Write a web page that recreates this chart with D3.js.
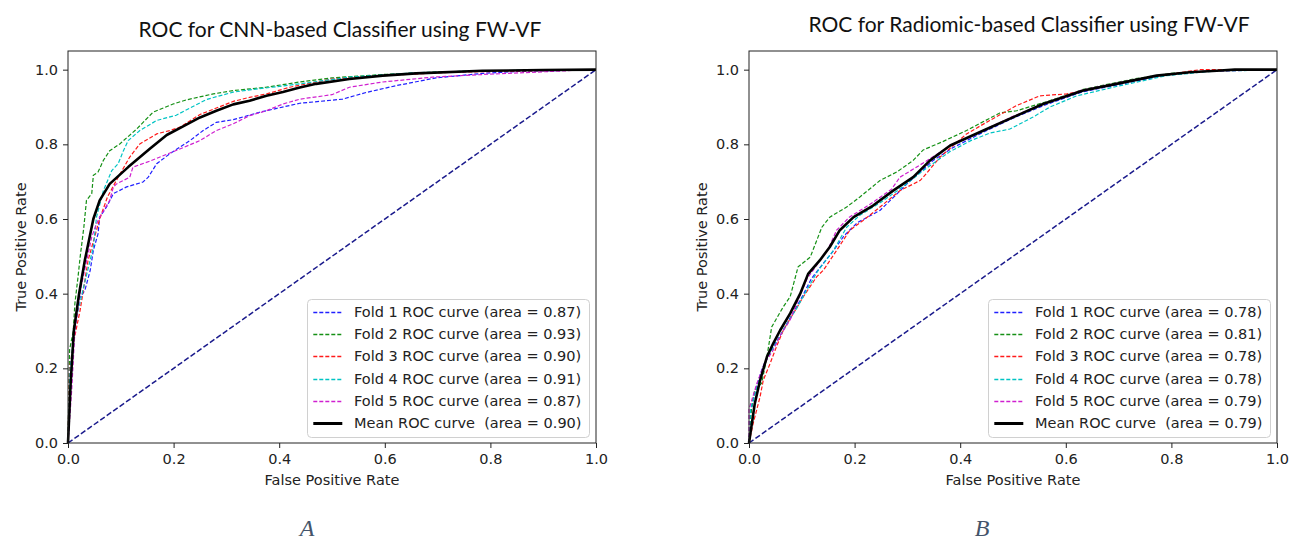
<!DOCTYPE html>
<html>
<head>
<meta charset="utf-8">
<title>ROC curves</title>
<script src="https://cdnjs.cloudflare.com/ajax/libs/d3/7.8.5/d3.min.js"></script>
<style>
  body { margin: 0; background: #fff; }
  svg { display: block; font-family: "DejaVu Sans", sans-serif; }
</style>
</head>
<body>
<svg id="chart" width="1292" height="544"></svg>
<script>
// ---- data: [false positive rate, true positive rate] ----
var tickValues = [0, 0.2, 0.4, 0.6, 0.8, 1.0];

var cnnFold1 = [[0,0],[0.006,0.16],[0.013,0.32],[0.019,0.382],[0.032,0.409],[0.042,0.462],[0.048,0.516],[0.057,0.561],[0.06,0.605],[0.073,0.632],[0.086,0.668],[0.111,0.686],[0.142,0.699],[0.152,0.712],[0.168,0.748],[0.193,0.775],[0.231,0.81],[0.256,0.837],[0.281,0.859],[0.313,0.866],[0.363,0.886],[0.439,0.91],[0.52,0.921],[0.565,0.939],[0.621,0.957],[0.697,0.978],[0.785,0.99],[0.848,0.995],[1,1]];
var cnnFold2 = [[0,0],[0.003,0.25],[0.01,0.3],[0.013,0.373],[0.019,0.445],[0.023,0.498],[0.03,0.578],[0.035,0.65],[0.045,0.668],[0.048,0.717],[0.057,0.726],[0.067,0.757],[0.079,0.783],[0.098,0.801],[0.13,0.841],[0.161,0.886],[0.199,0.908],[0.224,0.919],[0.275,0.935],[0.313,0.944],[0.376,0.953],[0.439,0.967],[0.5,0.978],[0.596,0.987],[0.691,0.993],[0.785,0.997],[1,1]];
var cnnFold3 = [[0,0],[0.003,0.2],[0.012,0.28],[0.023,0.356],[0.029,0.409],[0.038,0.489],[0.048,0.54],[0.06,0.6],[0.075,0.66],[0.095,0.712],[0.117,0.766],[0.136,0.801],[0.168,0.828],[0.193,0.837],[0.212,0.846],[0.25,0.88],[0.313,0.915],[0.344,0.926],[0.376,0.935],[0.42,0.953],[0.5,0.975],[0.596,0.984],[0.722,0.993],[1,1]];
var cnnFold4 = [[0,0],[0.004,0.2],[0.015,0.33],[0.03,0.42],[0.048,0.525],[0.054,0.605],[0.067,0.676],[0.083,0.73],[0.095,0.748],[0.105,0.783],[0.114,0.81],[0.136,0.837],[0.168,0.864],[0.205,0.878],[0.262,0.92],[0.313,0.94],[0.363,0.949],[0.439,0.962],[0.533,0.98],[0.659,0.992],[0.785,0.997],[1,1]];
var cnnFold5 = [[0,0],[0.007,0.142],[0.013,0.3],[0.025,0.42],[0.045,0.552],[0.054,0.587],[0.06,0.605],[0.079,0.65],[0.086,0.686],[0.092,0.694],[0.117,0.712],[0.123,0.739],[0.155,0.755],[0.199,0.78],[0.25,0.81],[0.281,0.837],[0.313,0.855],[0.344,0.877],[0.376,0.89],[0.407,0.908],[0.439,0.921],[0.5,0.933],[0.533,0.953],[0.596,0.967],[0.691,0.98],[0.785,0.987],[0.88,0.993],[0.975,0.999],[1,1]];
var cnnMean  = [[0,0],[0.005,0.16],[0.011,0.3],[0.021,0.4],[0.032,0.49],[0.048,0.6],[0.06,0.65],[0.079,0.694],[0.114,0.739],[0.155,0.788],[0.187,0.825],[0.218,0.848],[0.25,0.872],[0.281,0.89],[0.313,0.907],[0.344,0.917],[0.376,0.93],[0.407,0.94],[0.439,0.952],[0.47,0.962],[0.533,0.975],[0.596,0.984],[0.659,0.99],[0.785,0.997],[0.9,0.999],[1,1]];
var cnnAreas = [0.87, 0.93, 0.90, 0.91, 0.87, 0.90];

var radFold1 = [[0,0],[0.003,0.08],[0.012,0.14],[0.025,0.2],[0.04,0.245],[0.06,0.29],[0.08,0.34],[0.1,0.39],[0.118,0.44],[0.14,0.48],[0.16,0.515],[0.18,0.555],[0.205,0.59],[0.248,0.623],[0.275,0.66],[0.299,0.694],[0.349,0.757],[0.385,0.79],[0.44,0.83],[0.5,0.87],[0.56,0.905],[0.63,0.94],[0.7,0.96],[0.775,0.982],[0.84,0.993],[0.9,0.998],[1,1]];
var radFold2 = [[0,0],[0.002,0.05],[0.005,0.097],[0.011,0.142],[0.024,0.16],[0.034,0.231],[0.043,0.311],[0.065,0.365],[0.078,0.392],[0.093,0.472],[0.116,0.498],[0.138,0.578],[0.153,0.605],[0.185,0.632],[0.21,0.659],[0.248,0.703],[0.28,0.726],[0.311,0.757],[0.33,0.785],[0.368,0.808],[0.412,0.837],[0.475,0.884],[0.507,0.89],[0.57,0.917],[0.633,0.947],[0.728,0.975],[0.8,0.99],[0.917,1],[1,1]];
var radFold3 = [[0,0],[0.008,0.053],[0.021,0.124],[0.027,0.168],[0.04,0.213],[0.052,0.258],[0.065,0.302],[0.084,0.347],[0.103,0.392],[0.128,0.445],[0.141,0.463],[0.166,0.516],[0.191,0.57],[0.216,0.596],[0.248,0.632],[0.286,0.676],[0.324,0.703],[0.33,0.712],[0.362,0.766],[0.412,0.828],[0.456,0.864],[0.507,0.904],[0.551,0.93],[0.602,0.935],[0.665,0.953],[0.759,0.98],[0.854,1],[1,1]];
var radFold4 = [[0,0],[0.003,0.09],[0.015,0.15],[0.03,0.215],[0.05,0.265],[0.07,0.315],[0.09,0.36],[0.109,0.409],[0.13,0.46],[0.16,0.516],[0.185,0.578],[0.21,0.61],[0.25,0.645],[0.29,0.685],[0.33,0.73],[0.38,0.78],[0.42,0.81],[0.456,0.83],[0.494,0.841],[0.538,0.873],[0.57,0.9],[0.621,0.93],[0.696,0.955],[0.791,0.984],[0.87,0.995],[1,1]];
var radFold5 = [[0,0],[0,0.09],[0.015,0.16],[0.03,0.215],[0.046,0.249],[0.06,0.29],[0.078,0.33],[0.095,0.39],[0.11,0.44],[0.13,0.48],[0.15,0.52],[0.166,0.57],[0.19,0.605],[0.23,0.64],[0.27,0.68],[0.286,0.712],[0.33,0.75],[0.38,0.795],[0.44,0.835],[0.5,0.875],[0.56,0.91],[0.63,0.945],[0.7,0.965],[0.775,0.985],[0.85,0.995],[1,1]];
var radMean  = [[0,0],[0.011,0.106],[0.021,0.168],[0.034,0.231],[0.046,0.267],[0.059,0.302],[0.078,0.347],[0.097,0.4],[0.112,0.453],[0.134,0.489],[0.153,0.525],[0.172,0.57],[0.198,0.605],[0.235,0.636],[0.273,0.676],[0.311,0.712],[0.343,0.757],[0.381,0.797],[0.444,0.837],[0.507,0.877],[0.557,0.908],[0.633,0.944],[0.696,0.962],[0.772,0.984],[0.835,0.993],[0.886,0.997],[0.92,1],[1,1]];
var radAreas = [0.78, 0.81, 0.78, 0.78, 0.79, 0.79];

var foldColors = ["#2020ff", "#159015", "#ff1a1a", "#00c4c4", "#d020d0"];

var svg = d3.select("#chart");

function drawPanel(p) {
  var x = d3.scaleLinear().domain([0, 1]).range([p.left, p.right]);
  var y = d3.scaleLinear().domain([0, 1.05]).range([p.bottom, p.top]);
  var line = d3.line().x(function(d){ return x(d[0]); }).y(function(d){ return y(d[1]); });
  var g = svg.append("g");

  // folds
  p.folds.forEach(function(f, i){
    g.append("path").attr("d", line(f)).attr("fill", "none")
      .attr("stroke", foldColors[i]).attr("stroke-width", 1.2).attr("stroke-dasharray", "4,2");
  });
  // chance diagonal
  g.append("path").attr("d", line([[0,0],[1,1]])).attr("fill", "none")
    .attr("stroke", "#1a1a8c").attr("stroke-width", 1.5).attr("stroke-dasharray", "5.5,2.4");
  // mean curve
  g.append("path").attr("d", line(p.mean)).attr("fill", "none")
    .attr("stroke", "#000").attr("stroke-width", 2.6).attr("stroke-linejoin", "round");

  // axes
  var ax = g.append("g").attr("transform", "translate(0," + p.bottom + ")")
    .call(d3.axisBottom(x).tickValues(tickValues).tickFormat(d3.format(".1f")).tickSize(5).tickPadding(6));
  var ay = g.append("g").attr("transform", "translate(" + p.left + ",0)")
    .call(d3.axisLeft(y).tickValues(tickValues).tickFormat(d3.format(".1f")).tickSize(5).tickPadding(5));
  [ax, ay].forEach(function(a){
    a.select(".domain").remove();
    a.selectAll("text").attr("font-family", "DejaVu Sans").attr("font-size", 14.5).attr("fill", "#222");
    a.selectAll("line").attr("stroke", "#222");
  });
  g.append("rect").attr("x", p.left).attr("y", p.top)
    .attr("width", p.right - p.left).attr("height", p.bottom - p.top)
    .attr("fill", "none").attr("stroke", "#222").attr("stroke-width", 1);

  // labels
  g.append("text").attr("x", p.titleX).attr("y", p.titleY).attr("text-anchor", "middle")
    .attr("font-family", "Lato, 'Open Sans', sans-serif").attr("font-size", 21).attr("fill", "#111").text(p.title);
  g.append("text").attr("x", (p.left + p.right) / 2).attr("y", 485).attr("text-anchor", "middle")
    .attr("font-size", 14.5).attr("fill", "#222").text("False Positive Rate");
  g.append("text").attr("transform", "translate(" + (p.left - 42) + "," + ((p.top + p.bottom) / 2) + ") rotate(-90)")
    .attr("text-anchor", "middle").attr("font-size", 14.5).attr("fill", "#222").text("True Positive Rate");
  g.append("text").attr("x", p.captionX).attr("y", 536).attr("text-anchor", "middle")
    .attr("font-family", "'Liberation Serif', serif").attr("font-style", "italic")
    .attr("font-size", 24).attr("fill", "#44546a").text(p.caption);

  // legend
  var labels = p.areas.map(function(a, i){
    return (i < 5 ? "Fold " + (i + 1) + " ROC curve" : "Mean ROC curve ") + " (area = " + a.toFixed(2) + ")";
  });
  var lg = g.append("g");
  var box = lg.append("rect").attr("rx", 4).attr("fill", "#fff").attr("fill-opacity", 0.85)
    .attr("stroke", "#d0d0d0").attr("stroke-width", 1);
  var rowH = 22.2, pad = 5.8, handle = 29, gap = 11.7;
  var texts = labels.map(function(t, i){
    return lg.append("text").attr("xml:space", "preserve").style("white-space", "pre")
      .attr("font-size", 14.5).attr("fill", "#222").attr("dy", "0.35em").text(t);
  });
  var tw = d3.max(texts, function(t){ return t.node().getComputedTextLength(); });
  var w = pad + handle + gap + tw + pad + 2, h = 138;
  var bx = Math.round(p.right - 7 - w) + 0.5, by = Math.round(p.bottom - 6.5 - h) + 0.5;
  box.attr("x", bx).attr("y", by).attr("width", Math.round(w)).attr("height", h);
  texts.forEach(function(t, i){
    var cy = by + 12.5 + i * rowH;
    t.attr("x", bx + pad + handle + gap).attr("y", cy);
    var ly = Math.round(cy) + 0.5;
    var hl = lg.append("line").attr("x1", bx + pad).attr("x2", bx + pad + handle)
      .attr("y1", ly).attr("y2", ly);
    if (i < 5) {
      hl.attr("stroke", foldColors[i]).attr("stroke-width", 1.3).attr("stroke-dasharray", "4,2");
    } else {
      hl.attr("stroke", "#000").attr("stroke-width", 3);
    }
  });
}

drawPanel({
  left: 68, right: 596, top: 51, bottom: 443,
  title: "ROC for CNN-based Classifier using FW-VF", titleX: 340, titleY: 37,
  folds: [cnnFold1, cnnFold2, cnnFold3, cnnFold4, cnnFold5], mean: cnnMean, areas: cnnAreas,
  caption: "A", captionX: 307
});
drawPanel({
  left: 749, right: 1277, top: 51, bottom: 443,
  title: "ROC for Radiomic-based Classifier using FW-VF", titleX: 1029, titleY: 32,
  folds: [radFold1, radFold2, radFold3, radFold4, radFold5], mean: radMean, areas: radAreas,
  caption: "B", captionX: 982
});
</script>
</body>
</html>
